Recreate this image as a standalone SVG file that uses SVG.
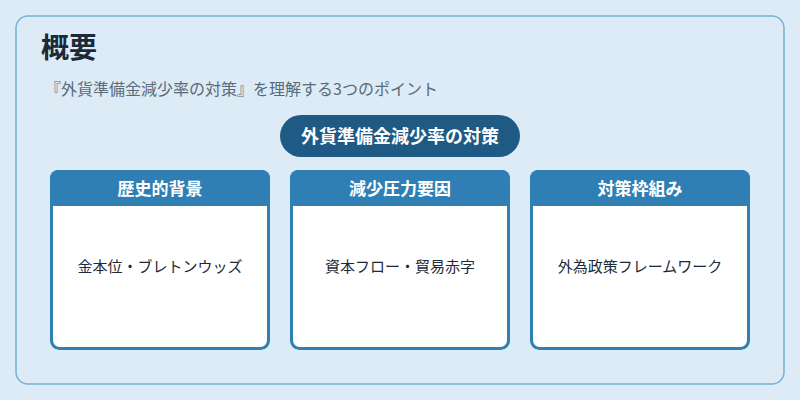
<svg xmlns="http://www.w3.org/2000/svg" width="800" height="400" viewBox="0 0 800 400">
<style>
text{font-family:"Noto Sans CJK JP","Noto Sans",sans-serif}
.card{fill:#fff;stroke:#2f7fb5;stroke-width:3}
.hd{fill:#2f7fb5}
.ht{fill:#fff;font-size:17px;font-weight:bold;text-anchor:middle}
.bt{fill:#1a2a3a;font-size:15px;text-anchor:middle}
</style>
<rect width="800" height="400" fill="#dcebf6"/>
<rect x="16" y="16" width="768" height="368" rx="12" fill="#dcebf6" stroke="#7ab0d6" stroke-width="1.5"/>
<text x="41" y="58" font-size="28" font-weight="bold" fill="#1a2a3a">概要</text>
<text x="45" y="95" font-size="16" fill="#5a6a78">『外貨準備金減少率の対策』を理解する3つのポイント</text>
<g id="center"><rect x="280" y="115" width="240" height="42" rx="21" fill="#1f5a85"/>
<text x="400" y="143" font-size="18" font-weight="bold" fill="#fff" text-anchor="middle">外貨準備金減少率の対策</text></g>
<g id="connectors"></g>
<g id="n1"><rect class="card" x="51.5" y="171.5" width="217" height="177" rx="8"/><path class="hd" d="M50 206V178a8 8 0 0 1 8-8h204a8 8 0 0 1 8 8v28z"/>
<text class="ht" x="160" y="195">歴史的背景</text><text class="bt" x="160" y="272">金本位・ブレトンウッズ</text></g>
<g id="n2"><rect class="card" x="291.5" y="171.5" width="217" height="177" rx="8"/><path class="hd" d="M290 206V178a8 8 0 0 1 8-8h204a8 8 0 0 1 8 8v28z"/>
<text class="ht" x="400" y="195">減少圧力要因</text><text class="bt" x="400" y="272">資本フロー・貿易赤字</text></g>
<g id="n3"><rect class="card" x="531.5" y="171.5" width="217" height="177" rx="8"/><path class="hd" d="M530 206V178a8 8 0 0 1 8-8h204a8 8 0 0 1 8 8v28z"/>
<text class="ht" x="640" y="195">対策枠組み</text><text class="bt" x="640" y="272">外為政策フレームワーク</text></g>
</svg>
